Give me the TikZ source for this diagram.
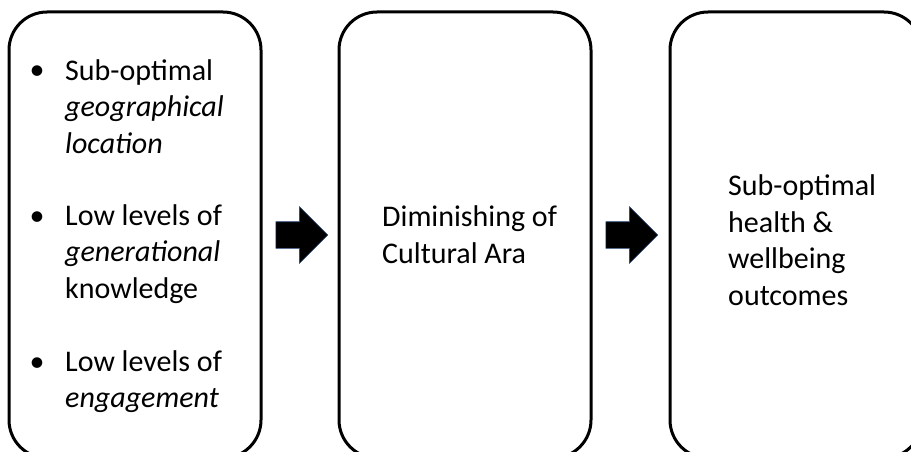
\documentclass[tikz,border=0pt]{standalone}
\usepackage{fontspec}
\setmainfont{Carlito}
\usetikzlibrary{shapes.arrows,calc}
\definecolor{ArrowEdge}{HTML}{2F4F7F}

\begin{document}
\begin{tikzpicture}[x=1pt, y=-1pt,
  stage/.style={draw=black, line width=3pt, rounded corners=38pt, minimum width=252pt,
                minimum height=446pt, inner sep=0pt},
  blk/.style={single arrow, fill=black, draw=ArrowEdge, line width=0.6pt, minimum height=52pt,
              single arrow head extend=15pt, inner xsep=0pt, inner ysep=13pt, anchor=tail},
  txt/.style={anchor=base west, align=left, inner sep=0pt, font=\fontsize{30}{36.5}\selectfont},
  dot/.style={anchor=base, inner sep=0pt, font=\fontsize{30}{36.5}\selectfont}]
\clip (0,0) rectangle (911,452);

% the three stages
\node[stage] (b1) at (135,235) {};
\node[stage] (b2) at (465,235) {};
\node[stage] (b3) at (796,235) {};

% block arrows between stages
\node[blk] (a1) at ($(b1.east)+(13,0)$) {};
\node[blk] (a2) at ($(b2.east)+(13,0)$) {};

% contributing factors (anchored at the baseline of the last line)
\node[dot] (d1) at (37,80) {•};
\node[txt] (f1) at (65,153) {Sub-optimal\\\textit{geographical}\\\textit{location}};
\node[dot] (d2) at (37,225) {•};
\node[txt] (f2) at (65,298) {Low levels of\\\textit{generational}\\knowledge};
\node[dot] (d3) at (37,371) {•};
\node[txt] (f3) at (65,407.5) {Low levels of\\\textit{engagement}};

\node[txt] (m1) at (382,263) {Diminishing of\\Cultural Ara};
\node[txt] (o1) at (728,305) {Sub-optimal\\health \&\\wellbeing\\outcomes};
\end{tikzpicture}
\end{document}
